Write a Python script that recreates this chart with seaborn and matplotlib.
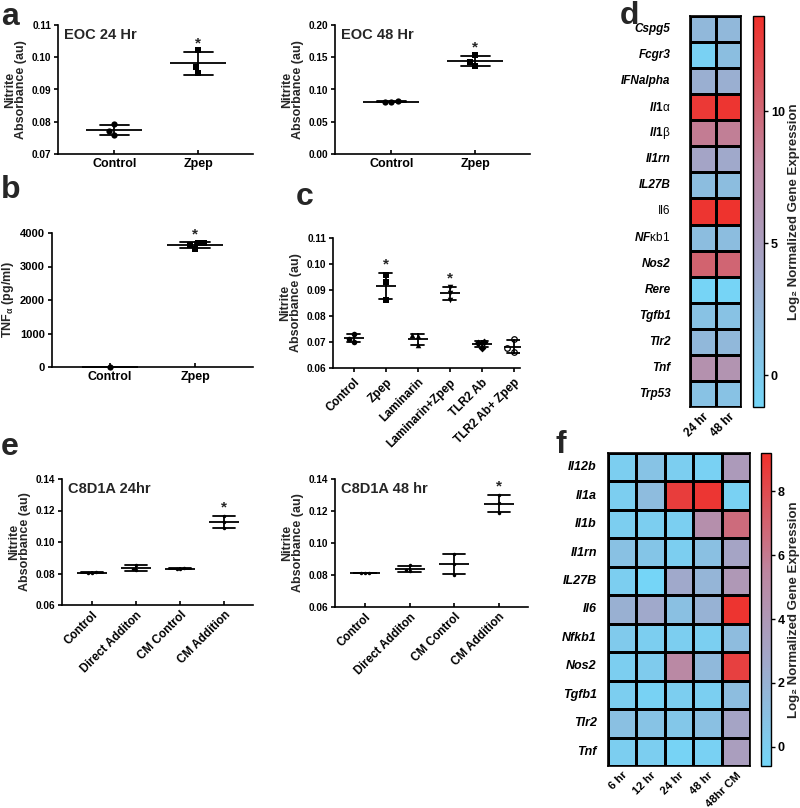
import numpy as np
import pandas as pd
import matplotlib
matplotlib.use("Agg")
import matplotlib.pyplot as plt
import seaborn as sns
from matplotlib.colors import LinearSegmentedColormap

sns.set_theme(style="ticks")
plt.rcParams["font.family"] = ["Liberation Sans", "DejaVu Sans"]
plt.rcParams["font.weight"] = "bold"
plt.rcParams["axes.labelweight"] = "bold"
plt.rcParams["mathtext.fontset"] = "custom"
plt.rcParams["mathtext.it"] = "Liberation Sans:italic:bold"
plt.rcParams["mathtext.rm"] = "Liberation Sans"
plt.rcParams["mathtext.bf"] = "Liberation Sans:bold"
plt.rcParams["axes.edgecolor"] = "black"
plt.rcParams["xtick.color"] = "black"
plt.rcParams["ytick.color"] = "black"

# ---------------- data ----------------
a_groups = ["Control", "Zpep"]
a24_control = [0.0792, 0.0760, 0.0770]
a24_zpep = [0.1021, 0.0952, 0.0970]
a48_control = [0.0820, 0.0800, 0.0810]
a48_zpep = [0.1530, 0.1430, 0.1370]

b_groups = ["Control", "Zpep"]
b_control = [0.0]
b_zpep = [3690, 3520, 3640, 3710]

c_groups = ["Control", "Zpep", "Laminarin", "Laminarin+Zpep", "TLR2 Ab", "TLR2 Ab+ Zpep"]
c_control = [0.0730, 0.0700, 0.0712]
c_zpep = [0.0958, 0.0930, 0.0862]
c_laminarin = [0.0725, 0.0722, 0.0687]
c_lam_zpep = [0.0912, 0.0890, 0.0860]
c_tlr2 = [0.0700, 0.0695, 0.0678]
c_tlr2_zpep = [0.0710, 0.0675, 0.0662]

e_groups = ["Control", "Direct Additon", "CM Control", "CM Addition"]
e24_control = [0.0805, 0.0807, 0.0806]
e24_direct = [0.0855, 0.0820, 0.0830]
e24_cm_control = [0.0835, 0.0830, 0.0826]
e24_cm_add = [0.1165, 0.1090, 0.1130]
e48_control = [0.0813, 0.0812, 0.0814]
e48_direct = [0.0860, 0.0830, 0.0822]
e48_cm_control = [0.0930, 0.0870, 0.0802]
e48_cm_add = [0.1300, 0.1250, 0.1190]

d_genes = ["Cspg5", "Fcgr3", "IFNalpha", "Il1α", "Il1β", "Il1rn", "IL27B", "Il6",
           "NFκb1", "Nos2", "Rere", "Tgfb1", "Tlr2", "Tnf", "Trp53"]
d_times = ["24 hr", "48 hr"]
d_24hr = [2.0, -0.6, 3.0, 13.0, 8.6, 4.2, 1.5, 13.2, 1.5, 10.3, -1.0, 1.0, 2.0, 6.6, 1.0]
d_48hr = [2.0, 1.4, 3.0, 13.2, 8.4, 3.7, 1.5, 13.4, 1.5, 10.1, -1.0, 1.0, 2.0, 6.2, 1.0]

f_genes = ["Il12b", "Il1a", "Il1b", "Il1rn", "IL27B", "Il6", "Nfkb1", "Nos2", "Tgfb1", "Tlr2", "Tnf"]
f_times = ["6 hr", "12 hr", "24 hr", "48 hr", "48hr CM"]
f_6hr = [0.0, 0.0, 0.0, 0.9, 0.0, 2.1, 0.3, 0.0, 0.0, 1.0, 0.0]
f_12hr = [0.8, 1.3, 0.0, 0.6, -0.5, 2.6, 0.0, 0.2, -0.3, 0.8, 0.0]
f_24hr = [0.0, 8.6, -0.1, 0.0, 2.6, 1.0, 0.0, 5.2, 0.0, 0.5, -0.4]
f_48hr = [-0.2, 8.9, 4.7, 1.0, 1.8, 2.0, -0.1, 1.5, -0.1, 1.0, -0.2]
f_48hr_cm = [3.8, -0.2, 6.6, 3.0, 4.0, 9.0, 1.3, 8.5, 1.2, 3.0, 3.5]

cmap = LinearSegmentedColormap.from_list(
    "bluered", [(0.0, "#74d6f8"), (0.35, "#a3a6c8"), (0.62, "#bd86a0"), (1.0, "#f0302a")])

# ---------------- figure ----------------
fig = plt.figure(figsize=(8, 8.08), dpi=100)


def px_axes(l, t, r, b):
    return fig.add_axes([l / 800, 1 - b / 808, (r - l) / 800, (b - t) / 808])


def dot_panel(ax, groups, series, markers, ylim, yticks, yfmt, xlim, meanw, cap, msize,
              starred, open_groups=(), title=None, ylabel="Nitrite\nAbsorbance (au)",
              xrot=0, xdir="in", xfs=9, yfs=7.2):
    df = pd.DataFrame({"group": np.repeat(groups, [len(s) for s in series]),
                       "value": np.concatenate([np.asarray(s, float) for s in series])})
    for g, m in zip(groups, markers):
        sub = df[df["group"] == g]
        is_open = g in open_groups
        sns.swarmplot(data=sub, x="group", y="value", order=groups, marker=m,
                      color="white" if is_open else "black", edgecolor="black",
                      linewidth=0.9 if is_open else 0, size=msize, ax=ax, zorder=3)
    sns.pointplot(data=df, x="group", y="value", order=groups, errorbar="sd", capsize=cap,
                  color="black", marker="_", markersize=meanw, markeredgewidth=1.3,
                  linestyle="none", err_kws={"linewidth": 1.3}, ax=ax, zorder=4)
    for coll in ax.collections:
        coll.set_clip_on(False)
    stats = df.groupby("group")["value"].agg(["mean", "std"]).fillna(0)
    for g in starred:
        top = stats.loc[g, "mean"] + stats.loc[g, "std"]
        ax.annotate("*", (groups.index(g), top), xytext=(0, 3), textcoords="offset points",
                    ha="center", va="baseline", fontsize=11, fontweight="bold")
    ax.set_xlim(xlim)
    ax.set_ylim(ylim)
    ax.set_yticks(yticks)
    ax.set_yticklabels([yfmt.format(v) for v in yticks], fontsize=yfs)
    ax.set_xticks(range(len(groups)))
    if xrot:
        ax.set_xticklabels(groups, rotation=xrot, ha="right", rotation_mode="anchor", fontsize=xfs)
    else:
        ax.set_xticklabels(groups, fontsize=xfs)
    sns.despine(ax=ax)
    ax.spines[["left", "bottom"]].set_linewidth(1.2)
    ax.tick_params(axis="y", direction="out", length=3, width=1.2, pad=2)
    ax.tick_params(axis="x", direction=xdir, length=3, width=1.2, pad=3)
    ax.set_xlabel("")
    ax.set_ylabel(ylabel, fontsize=9, fontweight="bold", linespacing=0.95, labelpad=3)
    if title:
        ax.text(0.03, 0.98, title, transform=ax.transAxes, ha="left", va="top",
                fontsize=10.5, fontweight="bold")


# panel a
ax_a1 = px_axes(58, 25, 253, 154)
dot_panel(ax_a1, a_groups, [a24_control, a24_zpep], ["o", "s"], (0.07, 0.11),
          [0.07, 0.08, 0.09, 0.10, 0.11], "{:.2f}", (-0.67, 1.65), 41, 0.35, 4.5,
          ["Zpep"], title="EOC 24 Hr")
ax_a2 = px_axes(335, 25, 530, 154)
dot_panel(ax_a2, a_groups, [a48_control, a48_zpep], ["o", "s"], (0.0, 0.20),
          [0.0, 0.05, 0.10, 0.15, 0.20], "{:.2f}", (-0.67, 1.65), 41, 0.35, 4.5,
          ["Zpep"], title="EOC 48 Hr")

# panel b
ax_b = px_axes(52, 233, 253, 367)
dot_panel(ax_b, b_groups, [b_control, b_zpep], ["o", "s"], (0, 4000),
          [0, 1000, 2000, 3000, 4000], "{:.0f}", (-0.68, 1.68), 41, 0.35, 4.5,
          ["Zpep"], ylabel=r"TNF$_\mathregular{α}$ (pg/ml)", yfs=8)

# panel c
ax_c = px_axes(333, 238, 520, 368)
dot_panel(ax_c, c_groups, [c_control, c_zpep, c_laminarin, c_lam_zpep, c_tlr2, c_tlr2_zpep],
          ["o", "s", "^", "v", "D", "o"], (0.06, 0.11),
          [0.06, 0.07, 0.08, 0.09, 0.10, 0.11], "{:.2f}", (-0.65, 5.2), 14, 0.4, 4,
          ["Zpep", "Laminarin+Zpep"], open_groups=("TLR2 Ab+ Zpep",), xrot=45,
          xdir="out", xfs=8.5)

# panel e
ax_e1 = px_axes(62, 479, 253, 605)
dot_panel(ax_e1, e_groups, [e24_control, e24_direct, e24_cm_control, e24_cm_add],
          ["o", "o", "o", "o"], (0.06, 0.14), [0.06, 0.08, 0.10, 0.12, 0.14], "{:.2f}",
          (-0.68, 3.65), 21, 0.5, 2.5, ["CM Addition"], title="C8D1A 24hr",
          xrot=45, xfs=8.5)
ax_e2 = px_axes(335, 479, 528, 607)
dot_panel(ax_e2, e_groups, [e48_control, e48_direct, e48_cm_control, e48_cm_add],
          ["o", "o", "o", "o"], (0.06, 0.14), [0.06, 0.08, 0.10, 0.12, 0.14], "{:.2f}",
          (-0.67, 3.65), 21, 0.5, 2.5, ["CM Addition"], title="C8D1A 48 hr",
          xrot=45, xfs=8.5)


def draw_heat(ax, cax, mat, vmin, vmax, ticks, disp, special, pad, rfs, cfs):
    sns.heatmap(mat, ax=ax, cbar_ax=cax, cmap=cmap, vmin=vmin, vmax=vmax, linewidths=1,
                linecolor="black", cbar_kws={"ticks": ticks})
    ax.set_yticks(np.arange(len(mat.index)) + 0.5)
    ax.set_yticklabels(disp, rotation=0, fontsize=rfs)
    for lab, name in zip(ax.get_yticklabels(), mat.index):
        if name in special:
            lab.set_fontweight("normal")
            lab.set_fontstyle("normal")
        else:
            lab.set_fontweight("bold")
            lab.set_fontstyle("italic")
    ax.set_xticks(np.arange(len(mat.columns)) + 0.5)
    ax.set_xticklabels(mat.columns, rotation=45, ha="right", rotation_mode="anchor",
                       fontsize=cfs, fontweight="bold")
    ax.tick_params(axis="y", length=0, pad=pad)
    ax.tick_params(axis="x", length=0, pad=3)
    for s in ax.spines.values():
        s.set_visible(True)
        s.set_linewidth(1.2)
        s.set_color("black")
    cax.tick_params(length=3, width=1, labelsize=9, direction="out", pad=2)
    cax.set_ylabel("Log₂ Normalized Gene Expression", fontsize=9.5, fontweight="bold",
                   labelpad=2)
    cb = ax.collections[0].colorbar
    cb.outline.set_edgecolor("black")
    cb.outline.set_linewidth(1)


d_mat = pd.DataFrame({d_times[0]: d_24hr, d_times[1]: d_48hr}, index=d_genes)
d_disp = [r"$\mathit{Il1}$α" if g == "Il1α" else r"$\mathit{Il1}$β" if g == "Il1β"
          else r"$\mathit{NF}$κb1" if g == "NFκb1" else g for g in d_genes]
ax_d = px_axes(690, 16, 741, 407)
cax_d = px_axes(753, 16, 764, 407)
draw_heat(ax_d, cax_d, d_mat, -1.2, 13.6, [0, 5, 10], d_disp,
          {"Il1α", "Il1β", "NFκb1", "Il6"}, 14, 8.5, 8.5)

f_mat = pd.DataFrame(dict(zip(f_times, [f_6hr, f_12hr, f_24hr, f_48hr, f_48hr_cm])),
                     index=f_genes)
ax_f = px_axes(608, 453, 750, 766)
cax_f = px_axes(761, 453, 771, 766)
draw_heat(ax_f, cax_f, f_mat, -0.6, 9.2, [0, 2, 4, 6, 8], f_genes, set(), 8, 9, 8.2)

# panel letters
for letter, x, y in [("a", 1, 25), ("b", 1, 198), ("c", 296, 205), ("d", 620, 24),
                     ("e", 1, 455), ("f", 556, 453)]:
    fig.text(x / 800, 1 - y / 808, letter, fontsize=23, fontweight="bold",
             ha="left", va="baseline")

fig.savefig("out.png", dpi=100)
